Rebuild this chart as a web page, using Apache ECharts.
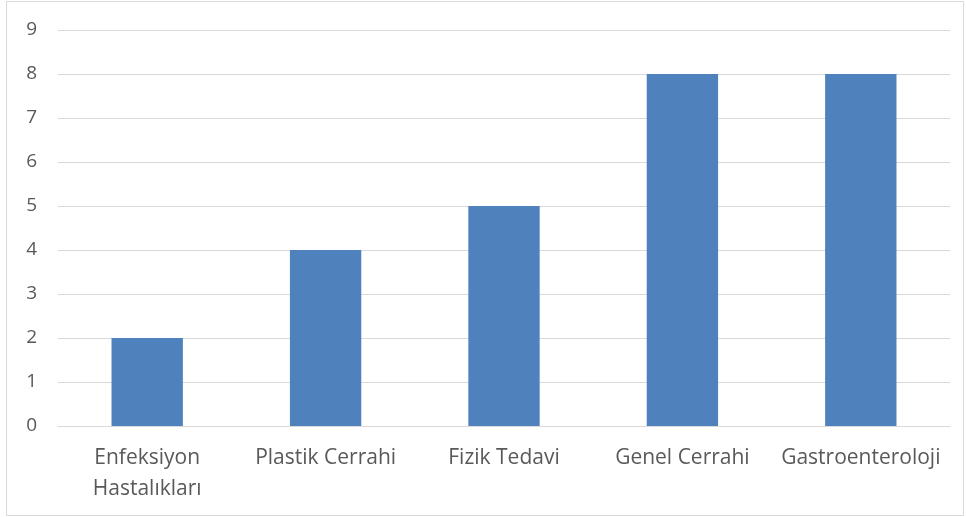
<!DOCTYPE html>
<html><head><meta charset="utf-8">
<script src="https://cdn.jsdelivr.net/npm/echarts@6/dist/echarts.min.js"></script>
<style>html,body{margin:0;padding:0;background:#fff}#c{width:966px;height:517px}</style>
</head><body><div id="c"></div>
<script>
const categories = ['Enfeksiyon\nHastalıkları', 'Plastik Cerrahi', 'Fizik Tedavi', 'Genel Cerrahi', 'Gastroenteroloji'];
const values = [2, 4, 5, 8, 8];
const yTicks = {min: 0, max: 9, interval: 1};

const chart = echarts.init(document.getElementById('c'));
chart.setOption({
  animation: false,
  graphic: [{type: 'rect', shape: {x: 6.5, y: 1.5, width: 957, height: 514}, style: {fill: 'none', stroke: '#d9d9d9', lineWidth: 1}, z: -1}],
  grid: {left: 58, right: 16, top: 30, bottom: 91, containLabel: false},
  xAxis: {
    type: 'category', data: categories,
    axisLine: {lineStyle: {color: '#d9d9d9', width: 1}},
    axisTick: {show: false},
    axisLabel: {color: '#595959', fontFamily: 'Open Sans', fontSize: 21, margin: 17, lineHeight: 31, interval: 0}
  },
  yAxis: {
    type: 'value', min: yTicks.min, max: yTicks.max, interval: yTicks.interval,
    axisLine: {show: false}, axisTick: {show: false},
    splitLine: {lineStyle: {color: '#d9d9d9', width: 1}},
    axisLabel: {color: '#595959', fontFamily: 'Open Sans', fontSize: 19, margin: 21}
  },
  series: [{type: 'bar', data: values, barWidth: '40%', itemStyle: {color: '#4f81bd'}}]
});
</script></body></html>
